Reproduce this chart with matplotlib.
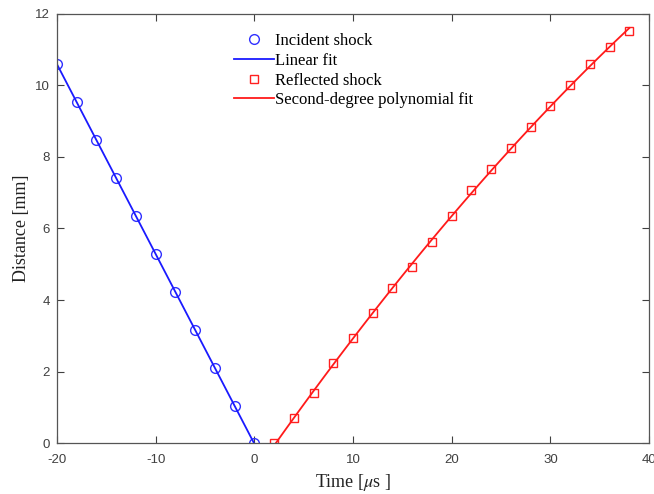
import numpy as np
import matplotlib
matplotlib.use('Agg')
import matplotlib.pyplot as plt

plt.rcParams['mathtext.fontset'] = 'stix'
plt.rcParams['axes.unicode_minus'] = False

# Incident shock data
t_inc = [-20, -18, -16, -14, -12, -10, -8, -6, -4, -2, 0]
d_inc = [10.60, 9.53, 8.47, 7.40, 6.35, 5.29, 4.21, 3.15, 2.10, 1.03, 0.0]

# Reflected shock data
t_ref = [2, 4, 6, 8, 10, 12, 14, 16, 18, 20, 22, 24, 26, 28, 30, 32, 34, 36, 38]
d_ref = [0.0, 0.69, 1.39, 2.23, 2.93, 3.63, 4.33, 4.93, 5.63, 6.35, 7.07,
         7.66, 8.24, 8.83, 9.42, 10.0, 10.60, 11.07, 11.53]

# Fits
p_lin = np.polyfit(t_inc, d_inc, 1)
p_quad = np.polyfit(t_ref, d_ref, 2)
tf_inc = np.linspace(min(t_inc), max(t_inc), 100)
tf_ref = np.linspace(min(t_ref), max(t_ref), 100)

fig = plt.figure(figsize=(6.54, 4.94), dpi=100)
ax = fig.add_axes([0.0872, 0.1032, 0.9052, 0.8685])

ax.plot(t_inc, d_inc, 'o', color='#3030ff', mfc='none', markersize=7, mew=1.0, label='Incident shock')
ax.plot(tf_inc, np.polyval(p_lin, tf_inc), '-', color='#1a1aff', linewidth=1.3, label='Linear fit')
ax.plot(t_ref, d_ref, 's', color='#ff2020', mfc='none', markersize=5.5, mew=1.0, label='Reflected shock')
ax.plot(tf_ref, np.polyval(p_quad, tf_ref), '-', color='#ff1a1a', linewidth=1.3, label='Second-degree polynomial fit')

ax.set_xlim(-20, 40)
ax.set_ylim(0, 12)
ax.set_xticks([-20, -10, 0, 10, 20, 30, 40])
ax.set_yticks([0, 2, 4, 6, 8, 10, 12])

ax.tick_params(direction='in', top=True, right=True, length=5, width=0.8,
               colors='#404040', labelsize=9.5)
ax.tick_params(axis='x', pad=8)
ax.tick_params(axis='y', pad=5)
for lbl in ax.get_xticklabels() + ax.get_yticklabels():
    lbl.set_family('Liberation Sans')
for s in ax.spines.values():
    s.set_color('#555555')
    s.set_linewidth(0.9)

ax.set_xlabel('Time [$\\mu$s ]', family='Liberation Serif', fontsize=13, color='#222222', labelpad=4)
ax.set_ylabel('Distance [mm]', family='Liberation Serif', fontsize=13, color='#222222', labelpad=4)

leg = ax.legend(loc='upper center', bbox_to_anchor=(0.501, 0.99), frameon=False,
                prop={'family': 'Liberation Serif', 'size': 12},
                handlelength=2.4, handletextpad=0.1, labelspacing=0.22)

fig.savefig('out.png', dpi=100)
